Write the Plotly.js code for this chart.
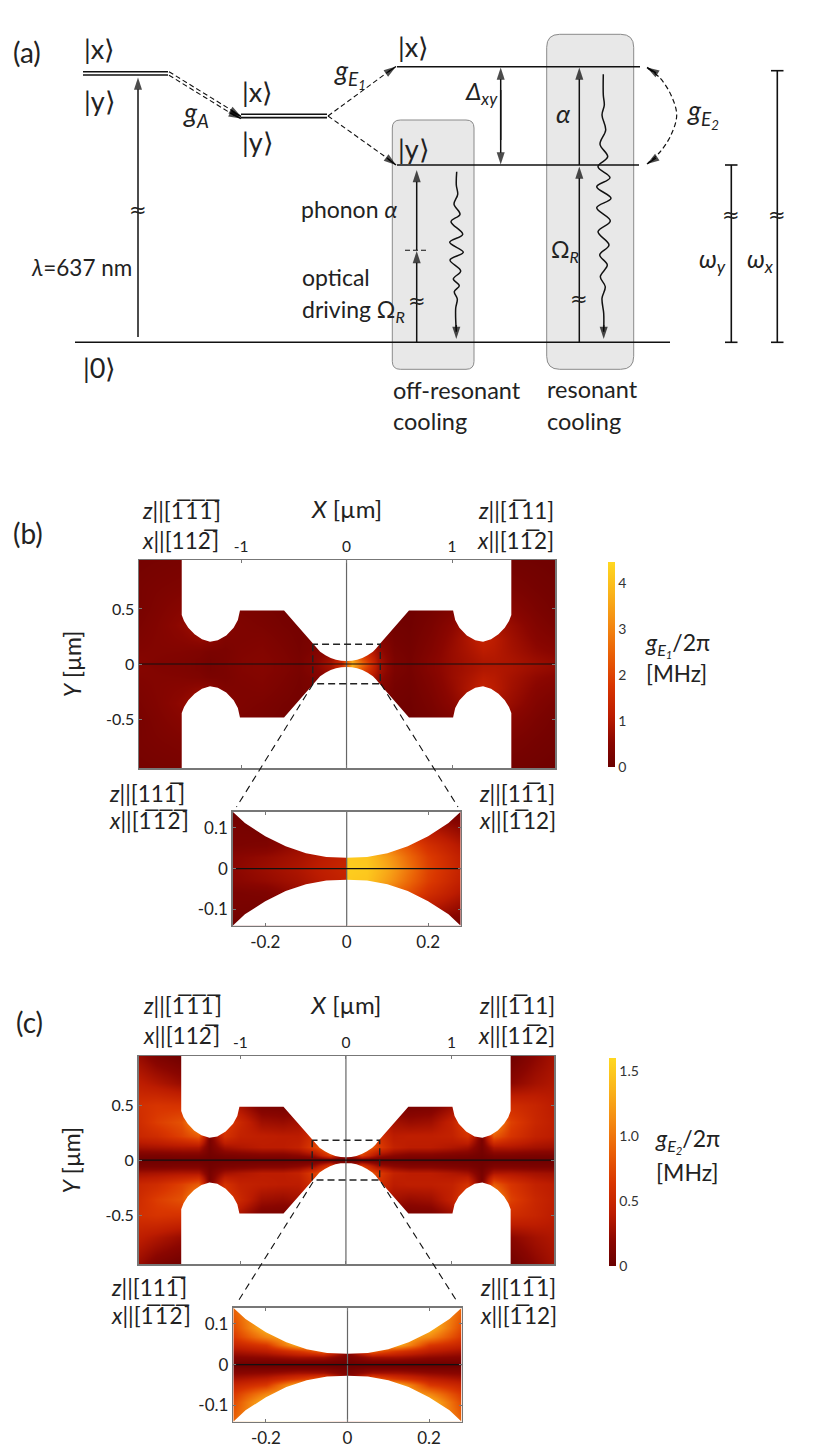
<!DOCTYPE html>
<html><head><meta charset="utf-8">
<script src="https://cdn.plot.ly/plotly-3.0.1.min.js"></script>
<style>html,body{margin:0;padding:0;background:#fff}</style></head>
<body><div id="chart" style="width:830px;height:1450px"></div>
<script>
// ---------- device outline (half profile, X and Y in µm) ----------
const outlineX = [1.562,1.562,1.54,1.50,1.44,1.37,1.294,1.22,1.14,1.07,1.03,1.01,0.592,0.315,0.28,0.25,0.20,0.15,0.10,0.05,0];
const outlineY = [0.96,0.445,0.39,0.33,0.27,0.225,0.203,0.215,0.26,0.33,0.40,0.485,0.485,0.182,0.14,0.112,0.08,0.055,0.038,0.029,0.027];

// ---------- main maps: columns in µm, rows for Y >= 0, mirrored about Y = 0 ----------
const mainX = [-1.97,-1.8,-1.56,-1.4,-1.29,-1.15,-1,-0.8,-0.6,-0.45,-0.3,-0.15,-0.05,0.05,0.15,0.3,0.45,0.6,0.8,1,1.15,1.29,1.4,1.56,1.8,1.97];
const mainY = [0,0.05,0.12,0.22,0.35,0.5,0.7,0.945];
const gE1Main = [
 [.45,.35,.35,.3,.22,.3,.4,.45,.35,.25,.5,.9,1.5,3.8,2.6,.9,.3,.2,.45,.7,.85,.95,.95,.9,.75,.65],
 [.45,.4,.35,.3,.22,.28,.4,.45,.35,.25,.45,.8,1.3,3.4,2.2,.85,.3,.2,.45,.7,.85,1,1,.9,.7,.6],
 [.4,.42,.4,.35,.28,.28,.38,.42,.32,.22,.35,.6,1,2.5,1.6,.7,.25,.18,.4,.7,.9,1.1,1.05,.85,.6,.5],
 [.35,.42,.5,.6,.55,.35,.35,.38,.28,.2,.3,.5,.8,1.5,1,.5,.2,.15,.35,.65,.95,1.25,1.1,.8,.5,.4],
 [.3,.4,.6,.8,.7,.5,.35,.3,.22,.18,.3,.5,.7,1,.8,.4,.15,.12,.28,.55,.8,1,.9,.7,.4,.28],
 [.25,.35,.5,.6,.5,.4,.3,.25,.18,.15,.2,.3,.4,.5,.4,.2,.12,.1,.2,.35,.5,.6,.6,.5,.3,.2],
 [.25,.3,.35,.35,.3,.25,.2,.2,.15,.1,.15,.2,.25,.3,.25,.15,.1,.1,.15,.2,.3,.35,.35,.3,.2,.15],
 [.2,.22,.25,.25,.2,.2,.15,.15,.1,.1,.1,.15,.2,.2,.15,.1,.1,.1,.1,.15,.2,.2,.2,.15,.12,.1]
];
const gE2Main = [
 [.03,.03,.03,.03,.03,.03,.03,.03,.03,.03,.03,.03,.03,.03,.03,.03,.03,.03,.03,.03,.03,.03,.03,.03,.03,.03],
 [.1,.1,.12,.12,.05,.1,.12,.15,.15,.2,.3,.7,.3,.3,.7,.3,.2,.15,.15,.12,.1,.05,.12,.12,.1,.1],
 [.3,.32,.35,.35,.08,.3,.35,.4,.4,.45,.7,1,.8,.8,1,.7,.45,.4,.4,.35,.3,.08,.35,.35,.3,.28],
 [.5,.55,.7,.85,.1,.6,.45,.42,.4,.4,.6,.8,.7,.7,.8,.6,.4,.42,.42,.45,.6,.1,.85,.62,.45,.4],
 [.55,.68,.8,1.25,.8,.7,.5,.28,.25,.3,.4,.5,.5,.5,.5,.4,.3,.25,.28,.45,.75,.9,1.25,.7,.5,.42],
 [.58,.62,.6,.55,.5,.4,.3,.1,.08,.1,.2,.3,.3,.3,.3,.2,.1,.08,.1,.25,.4,.5,.55,.55,.48,.4],
 [.42,.35,.25,.25,.2,.2,.2,.1,.1,.1,.1,.1,.1,.1,.1,.1,.1,.1,.1,.2,.2,.2,.25,.2,.3,.35],
 [.25,.12,.04,.05,.05,.05,.05,.05,.05,.05,.05,.05,.05,.05,.05,.05,.05,.05,.05,.05,.05,.05,.05,.04,.2,.3]
];

// ---------- zoomed maps ----------
const zoomE1X = [-.28,-.2,-.12,-.06,-.001,.001,.05,.1,.15,.2,.28];
const zoomE1Y = [0,.03,.06,.1,.14];
const gE1Zoom = [
 [.55,.75,.95,1.2,1.4,4.3,4.2,3.6,2.8,2,1.3],
 [.5,.65,.85,1.1,1.3,4.2,4.1,3.4,2.6,1.9,1.2],
 [.3,.35,.7,.9,1,3.5,3.4,2.8,2.2,1.6,1],
 [.25,.2,.4,.6,.7,2,2,1.8,1.4,1,.6],
 [.1,.1,.2,.3,.4,1,1,.8,.5,.3,.15]
];
const zoomE2X = [-.28,-.2,-.12,-.06,-.001,.001,.06,.12,.2,.28];
const zoomE2Y = [0,.008,.02,.035,.05,.07,.09,.14];
const gE2Zoom = [
 [.02,.02,.02,.02,.02,.02,.02,.02,.02,.02],
 [.08,.08,.1,.1,.05,.05,.1,.1,.08,.08],
 [.18,.22,.3,.3,.12,.12,.3,.3,.22,.18],
 [.32,.42,.65,.9,.18,.18,.9,.65,.42,.32],
 [.48,.65,1.35,1.1,.3,.3,1.1,1.35,.65,.48],
 [.65,1.1,1.4,1.1,.4,.4,1.1,1.4,1.1,.65],
 [.75,1.4,1.4,1,.5,.5,1,1.4,1.4,.75],
 [.9,1.5,1.4,1,.5,.5,1,1.4,1.5,.9]
];

// ---------- colour scale and colourbar ticks ----------
const heat = [[0,'#6a0000'],[.12,'#8a0600'],[.25,'#bc1c00'],[.4,'#d93600'],[.55,'#ea6006'],[.7,'#f48b12'],[.85,'#fab41a'],[1,'#ffd820']];
const e1Ticks = [0,1,2,3,4];
const e2Ticks = [0,0.5,1,1.5];
const e2TickText = ['0','0.5','1.0','1.5'];

// ---------- energy diagram geometry, page pixels ----------
const waveOffX = [456.7,456.3,457.7,454,460,451,462.7,449.7,463.3,450,460.7,453.3,459.3,454.3,457.3,455.7,456.3];
const waveOffY = [171.7,185,194.3,204.3,214.3,221.7,234.3,242.3,252.3,260,271,279,285.7,291.7,299,308.3,331.7];
const waveResX = [603.3,603.3,604.3,602,605.7,600,607.7,598,610,596.7,611,596.7,610.3,598,609,599.7,607.3,600.3,605.3,602,603.7,603.7];
const waveResY = [74.3,95,105,115,130,144.3,156.7,166.7,177.7,186.7,198.3,207.7,221,231.7,245,255,265,276.7,286.7,298.3,313.3,331.7];
const solidSegs = [
 [83,71.7,168,71.7],[83,75,168,75],[241,114.3,327,114.3],[241,117.6,327,117.6],
 [75,342.3,670,342.3],[397,66.7,640,66.7],[397,165,639,165],
 [731.3,165,731.3,342.3],[725,165,737.5,165],[725,342.3,737.5,342.3],
 [777.3,70.7,777.3,342.3],[771,70.7,783.5,70.7],[771,342.3,783.5,342.3]
];
const dashedSegs = [
 [169,71.7,236,113],[169,75.2,236,116.5],[328,116,392,69],[328,116,392,161.5],[405,250.3,428,250.3]
];
const arcX = [648,660,671,676.7,671,660,648];
const arcY = [68.5,78,95,115,135,152,163];
const zoomDashB = [[313,684,236.5,807],[381,684,458,807]];
const zoomDashC = [[313,1182,237,1303],[381,1182,458,1303]];
const rectX = [-0.32,-0.32,0.32,0.32,-0.32];
const rectY = [0.18,-0.18,-0.18,0.18,0.18];
const arrows = [
 [138,337,138,77.5],[416.7,342,416.7,251],[416.7,250,416.7,170],[579.3,342,579.3,166.5],[579.3,165,579.3,67.5],
 [500.7,140,500.7,67.5],[500.7,90,500.7,164.5],[456.3,325,456.3,339],[603.7,325,603.7,339],
 [232,111,241,116.5],[232,114,241,118.5],[388,72,396,66.5],[388,159,396,165],[656,73,647,67.5],[656,158,647,164]
];

// ---------- page layout ----------
const W = 830, H = 1450;
const dx = (a,b)=>[a/W,b/W], dy = (top,bot)=>[1-bot/H,1-top/H];
const font = 'Lato, "Open Sans", sans-serif';
const data = [], annotations = [];

function mirror(rows){ return rows.slice(1).reverse().concat(rows); }
function mirrorY(y){ return y.slice(1).reverse().map(v=>-v).concat(y); }

function panel(id, xs, ys, z, zmax, xr, yr, cb){
  const ax = {xaxis:'x'+id, yaxis:'y'+id};
  const h = {type:'heatmap', x:xs, y:mirrorY(ys), z:mirror(z), zmin:0, zmax, zsmooth:'best', colorscale:heat, showscale:!!cb, hoverinfo:'skip', ...ax};
  if(cb) h.colorbar = cb;
  data.push(h);
  const ox = outlineX.map(v=>-v).concat(outlineX.slice().reverse());
  const oy = outlineY.concat(outlineY.slice().reverse());
  data.push({type:'scatter',mode:'lines',x:ox,y:oy,fill:'toself',fillcolor:'#fff',line:{width:0},hoverinfo:'skip',showlegend:false,...ax});
  data.push({type:'scatter',mode:'lines',x:ox,y:oy.map(v=>-v),fill:'toself',fillcolor:'#fff',line:{width:0},hoverinfo:'skip',showlegend:false,...ax});
  data.push({type:'scatter',mode:'lines',x:[0,0],y:yr,line:{color:'#666',width:1.2},hoverinfo:'skip',showlegend:false,...ax});
  data.push({type:'scatter',mode:'lines',x:xr,y:[0,0],line:{color:'#111',width:1.2},hoverinfo:'skip',showlegend:false,...ax});
}
function rectTrace(id){
  data.push({type:'scatter',mode:'lines',x:rectX,y:rectY,line:{color:'#222',width:1.4,dash:'7px,4px'},hoverinfo:'skip',showlegend:false,xaxis:'x'+id,yaxis:'y'+id});
}
const axBase = {showgrid:false,zeroline:false,showline:true,linecolor:'#777',linewidth:1.5,mirror:'allticks',ticks:'inside',ticklen:3,tickcolor:'#777',tickwidth:1,tickfont:{family:font,size:16,color:'#222'},fixedrange:true};

const mainXAxis = (dom,anch)=>({...axBase,domain:dom,range:[-1.967,1.976],anchor:anch,side:'top',tickvals:[-1,0,1],ticktext:['-1','0','1'],tickfont:{family:font,size:15.5,color:'#222'},title:{text:'<i>X</i> [µm]',font:{family:font,size:24,color:'#222'},standoff:12}});
const mainYAxis = (dom,anch)=>({...axBase,domain:dom,range:[-0.945,0.945],anchor:anch,tickvals:[-0.5,0,0.5],ticktext:['-0.5','0','0.5'],title:{text:'<i>Y</i> [µm]',font:{family:font,size:23,color:'#222'},standoff:18}});
const zoomXAxis = (dom,anch)=>({...axBase,domain:dom,range:[-.28,.28],anchor:anch,side:'bottom',tickvals:[-.2,0,.2],ticktext:['-0.2','0','0.2'],tickfont:{family:font,size:17,color:'#222'}});
const zoomYAxis = (dom,anch)=>({...axBase,domain:dom,range:[-.14,.14],anchor:anch,tickvals:[-.1,0,.1],ticktext:['-0.1','0','0.1'],tickfont:{family:font,size:17,color:'#222'}});

panel('',mainX,mainY,gE1Main,4.46,[-1.967,1.976],[-0.945,0.945],{x:608/W,xanchor:'left',y:1-767/H,yanchor:'bottom',len:205.5/H,lenmode:'fraction',thickness:7,thicknessmode:'pixels',outlinewidth:0,ticks:'',tickvals:e1Ticks,tickfont:{family:font,size:14,color:'#333'},xpad:0,ypad:0});
rectTrace('');
panel('2',zoomE1X,zoomE1Y,gE1Zoom,4.46,[-.28,.28],[-.14,.14],null);
panel('3',mainX,mainY,gE2Main,1.6,[-1.967,1.976],[-0.945,0.945],{x:609/W,xanchor:'left',y:1-1266/H,yanchor:'bottom',len:208/H,lenmode:'fraction',thickness:7,thicknessmode:'pixels',outlinewidth:0,ticks:'',tickvals:e2Ticks,ticktext:e2TickText,tickfont:{family:font,size:14,color:'#333'},xpad:0,ypad:0});
rectTrace('3');
panel('4',zoomE2X,zoomE2Y,gE2Zoom,1.6,[-.28,.28],[-.14,.14],null);

// ---------- diagram overlay ----------
const ov = {xaxis:'x5',yaxis:'y5',hoverinfo:'skip',showlegend:false};
function segTrace(segs,line){
  const x=[],y=[]; segs.forEach(s=>{x.push(s[0],s[2],null);y.push(s[1],s[3],null);});
  data.push({type:'scatter',mode:'lines',x,y,line,...ov});
}
segTrace(solidSegs,{color:'#111',width:1.6});
segTrace(dashedSegs,{color:'#111',width:1.1,dash:'5px,3px'});
segTrace(zoomDashB.concat(zoomDashC),{color:'#111',width:1.1,dash:'7px,5px'});
data.push({type:'scatter',mode:'lines',x:arcX,y:arcY,line:{color:'#111',width:1.2,dash:'5px,3px',shape:'spline'},...ov});
data.push({type:'scatter',mode:'lines',x:waveOffX,y:waveOffY,line:{color:'#111',width:1.5,shape:'spline',smoothing:1},...ov});
data.push({type:'scatter',mode:'lines',x:waveResX,y:waveResY,line:{color:'#111',width:1.5,shape:'spline',smoothing:1},...ov});
arrows.forEach(a=>data.push({type:'scatter',mode:'lines+markers',x:[a[0],a[2]],y:[a[1],a[3]],line:{color:'#111',width:1.5},
  marker:{symbol:'arrow',angleref:'previous',size:[0,13],color:'#000',line:{width:0}},...ov}));

function T(text,x,y,anchor,size,family){
  annotations.push({xref:'x5',yref:'y5',x,y,text,xanchor:anchor||'left',yanchor:'middle',showarrow:false,align:anchor||'left',font:{family:family||font,size:size||23,color:'#222'}});
}
const B = '\u0305\u200a';  // overbar on the digit before it, then a hair space
const sub = (s)=>`<sub>${s}</sub>`;
T('(a)',11,52,'left',28); T('(b)',11,533,'left',28); T('(c)',14,1022,'left',28);
T('|x⟩',82,48,'left',27); T('|y⟩',82,100,'left',27);
T('|x⟩',240,91.7,'left',27); T('|y⟩',240,141.7,'left',27);
T('|x⟩',396,46.7,'left',27); T('|y⟩',396,148,'left',27);
T('|0⟩',81,367,'left',27);
T('<i>λ</i>=637 nm',29,267,'left',22.5);
T('<i>g</i>'+sub('<i>A</i>'),181,113,'left',27);
T('<i>g</i>'+sub('<i>E</i>'+sub('<i>1</i>')),332,73,'left',27);
T('<i>g</i>'+sub('<i>E</i>'+sub('<i>2</i>')),685,113,'left',27);
T('<i>Δ</i>'+sub('<i>xy</i>'),463,92,'left',24);
T('phonon <i>α</i>',299,209,'left',23);
T('optical',300,277,'left',23);
T('driving Ω'+sub('<i>R</i>'),300,310,'left',23);
T('<i>α</i>',563,113,'center',26);
T('Ω'+sub('<i>R</i>'),549,250,'left',23);
T('off-resonant',391,390,'left',23.5); T('cooling',391,421,'left',23.5);
T('resonant',545,389,'left',23.5); T('cooling',545,421,'left',23.5);
T('<i>ω</i>'+sub('<i>y</i>'),697,260,'left',25); T('<i>ω</i>'+sub('<i>x</i>'),745,260,'left',25);
['138,210','416.7,301','579.3,299','731.3,215','777.3,215'].forEach(p=>{const c=p.split(',').map(Number);T('≈',c[0],c[1],'center',21,'DejaVu Sans');});

T('<i>g</i>'+sub('<i>E</i>'+sub('<i>1</i>'))+'/2π',643,644,'left',23); T('[MHz]',644,673,'left',22.5);
T('<i>g</i>'+sub('<i>E</i>'+sub('<i>2</i>'))+'/2π',653,1140,'left',23); T('[MHz]',654,1172,'left',23);

function orient(l1,l2,x,y1,y2,a){ T(l1,x,y1,a,22.5); T(l2,x,y2,a,22.5); }
orient(`<i>z</i>||[1${B}1${B}1${B}]`,`<i>x</i>||[112${B}]`,140,510,540,'left');
orient(`<i>z</i>||[1${B}11]`,`<i>x</i>||[11${B}2]`,556,510,540,'right');
orient(`<i>z</i>||[111${B}]`,`<i>x</i>||[1${B}1${B}2${B}]`,107,793,820,'left');
orient(`<i>z</i>||[11${B}1]`,`<i>x</i>||[1${B}12]`,477,793,820,'left');
orient(`<i>z</i>||[1${B}1${B}1${B}]`,`<i>x</i>||[112${B}]`,141,1005,1035,'left');
orient(`<i>z</i>||[1${B}11]`,`<i>x</i>||[11${B}2]`,557,1005,1035,'right');
orient(`<i>z</i>||[111${B}]`,`<i>x</i>||[1${B}1${B}2${B}]`,109,1287,1315,'left');
orient(`<i>z</i>||[11${B}1]`,`<i>x</i>||[1${B}12]`,478,1287,1315,'left');

// ---------- rounded grey boxes ----------
function rbox(x0,y0,x1,y1,r){
  return {type:'path',xref:'x5',yref:'y5',layer:'below',fillcolor:'#e8e8e8',line:{color:'#8a8a8a',width:1},
    path:`M${x0+r},${y0} L${x1-r},${y0} Q${x1},${y0} ${x1},${y0+r} L${x1},${y1-r} Q${x1},${y1} ${x1-r},${y1} L${x0+r},${y1} Q${x0},${y1} ${x0},${y1-r} L${x0},${y0+r} Q${x0},${y0} ${x0+r},${y0} Z`};
}

const layout = {
  width:W,height:H,margin:{l:0,r:0,t:0,b:0},paper_bgcolor:'#fff',plot_bgcolor:'rgba(0,0,0,0)',showlegend:false,
  font:{family:font},annotations,
  shapes:[rbox(392.3,120,474,369.3,8),rbox(546.7,34.3,633.7,369.3,13)],
  xaxis:mainXAxis(dx(139,555),'y'),yaxis:mainYAxis(dy(560,768),'x'),
  xaxis2:zoomXAxis(dx(232.7,460.7),'y2'),yaxis2:zoomYAxis(dy(811.7,925.7),'x2'),
  xaxis3:mainXAxis(dx(138.5,554.3),'y3'),yaxis3:mainYAxis(dy(1056,1264.3),'x3'),
  xaxis4:zoomXAxis(dx(233.3,461.7),'y4'),yaxis4:zoomYAxis(dy(1307.7,1421.7),'x4'),
  xaxis5:{domain:[0,1],range:[0,W],visible:false,fixedrange:true,anchor:'y5'},
  yaxis5:{domain:[0,1],range:[H,0],visible:false,fixedrange:true,anchor:'x5'}
};
Plotly.newPlot('chart',data,layout,{staticPlot:true,displayModeBar:false});
</script></body></html>
